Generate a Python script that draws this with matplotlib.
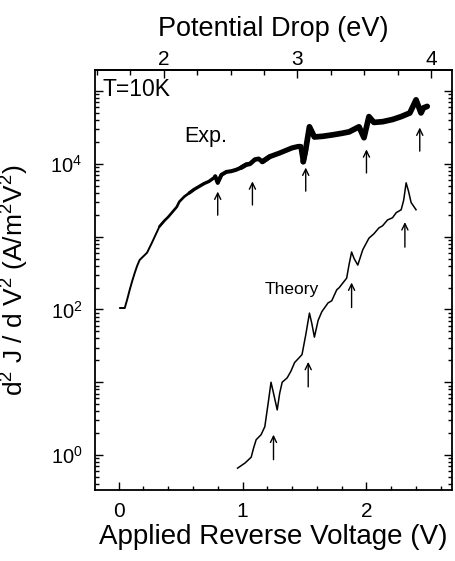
import numpy as np
import matplotlib
matplotlib.use("Agg")
import matplotlib.pyplot as plt
from matplotlib.ticker import LogLocator, MultipleLocator, FixedLocator, NullFormatter

plt.rcParams['font.family'] = ['Liberation Sans', 'DejaVu Sans']
plt.rcParams['mathtext.fontset'] = 'custom'
plt.rcParams['mathtext.rm'] = 'Liberation Sans'
plt.rcParams['mathtext.it'] = 'Liberation Sans:italic'

exp_v = [0.01, 0.05, 0.07, 0.09, 0.11, 0.13, 0.15, 0.17, 0.20, 0.23, 0.27, 0.30,
         0.33, 0.37, 0.40, 0.44, 0.47, 0.49, 0.53, 0.57, 0.61, 0.65, 0.69, 0.73,
         0.77, 0.78, 0.80, 0.83, 0.87, 0.91, 0.95, 0.99, 1.03, 1.06, 1.10, 1.13,
         1.16, 1.22, 1.30, 1.40, 1.45, 1.47, 1.49, 1.51, 1.54, 1.58, 1.65, 1.73,
         1.80, 1.86, 1.94, 1.98, 2.02, 2.06, 2.13, 2.21, 2.28, 2.35, 2.40, 2.44,
         2.46, 2.49]
exp_log = [2.02, 2.02, 2.14, 2.27, 2.39, 2.50, 2.60, 2.68, 2.73, 2.78, 2.92, 3.03,
           3.14, 3.22, 3.27, 3.35, 3.41, 3.48, 3.55, 3.60, 3.65, 3.69, 3.73, 3.76,
           3.81, 3.83, 3.74, 3.85, 3.89, 3.90, 3.92, 3.95, 3.99, 4.00, 4.06, 4.07,
           4.03, 4.10, 4.15, 4.22, 4.24, 4.24, 4.03, 4.20, 4.51, 4.37, 4.38, 4.40,
           4.42, 4.44, 4.51, 4.36, 4.65, 4.57, 4.58, 4.61, 4.65, 4.70, 4.88, 4.70,
           4.77, 4.79]
# trace width grows with the noise band
lw_breaks = [0.0, 0.35, 0.6, 0.8, 1.0, 1.2, 1.5, 2.5]
lw_vals = [1.4, 1.9, 2.4, 2.9, 3.3, 3.7, 4.1]

# theory curve
th_v = [0.96, 1.02, 1.07, 1.09, 1.11, 1.15, 1.18, 1.21, 1.23, 1.25, 1.28, 1.30,
        1.32, 1.36, 1.39, 1.42, 1.48, 1.51, 1.54, 1.56, 1.58, 1.61, 1.64, 1.69,
        1.72, 1.76, 1.78, 1.84, 1.86, 1.88, 1.90, 1.93, 1.97, 2.02, 2.06, 2.10,
        2.13, 2.17, 2.21, 2.24, 2.28, 2.30, 2.32, 2.34, 2.36, 2.40]
th_log = [-0.18, -0.11, -0.03, 0.10, 0.21, 0.28, 0.39, 0.75, 1.00, 0.85, 0.62, 0.85,
          1.00, 1.06, 1.15, 1.27, 1.38, 1.65, 1.95, 1.80, 1.62, 1.85, 1.97, 2.09,
          2.12, 2.27, 2.30, 2.43, 2.62, 2.79, 2.70, 2.61, 2.82, 2.98, 3.04, 3.12,
          3.15, 3.23, 3.26, 3.33, 3.37, 3.50, 3.74, 3.62, 3.47, 3.37]

# arrow heads (V, log10 y)
exp_arrow_v = [0.80, 1.08, 1.51, 2.00, 2.43]
exp_arrow_log = [3.62, 3.76, 3.95, 4.20, 4.50]
th_arrow_v = [1.25, 1.53, 1.88, 2.31]
th_arrow_log = [0.28, 1.28, 2.37, 3.20]

ev_ticks = [2, 3, 4]


def v2ev(v):
    return 2 + (np.asarray(v) - 0.363) / 1.0805


def ev2v(e):
    return 0.363 + (np.asarray(e) - 2) * 1.0805


fig = plt.figure(figsize=(4.55, 5.61), dpi=100)
ax = fig.add_axes([0.2088, 0.1266, 0.7846, 0.7486])

ev_arr = np.array(exp_v)
ey = 10 ** np.array(exp_log)
for lo, hi, w in zip(lw_breaks[:-1], lw_breaks[1:], lw_vals):
    idx = np.where((ev_arr >= lo) & (ev_arr <= hi))[0]
    idx = np.arange(max(idx[0] - 1, 0), min(idx[-1] + 2, len(ev_arr)))
    ax.plot(ev_arr[idx], ey[idx], color='black', lw=w, solid_joinstyle='round',
            solid_capstyle='round')
ax.plot(th_v, 10 ** np.array(th_log), color='black', lw=1.1)

ap = dict(arrowstyle='->,head_length=0.45,head_width=0.22', color='black', lw=1.0,
          shrinkA=0, shrinkB=0)
for v, lg in zip(exp_arrow_v, exp_arrow_log):
    ax.annotate('', xy=(v, 10 ** lg), xytext=(0, -17), textcoords='offset points',
                arrowprops=ap)
for v, lg in zip(th_arrow_v, th_arrow_log):
    ax.annotate('', xy=(v, 10 ** lg), xytext=(0, -18), textcoords='offset points',
                arrowprops=ap)

ax.text(-0.13, 10 ** 5.02, 'T=10K', fontsize=16.5, va='center', ha='left')
ax.text(0.53, 10 ** 4.37, 'Exp.', fontsize=15.5, va='center', ha='left')
ax.text(1.18, 10 ** 2.28, 'Theory', fontsize=12.5, va='center', ha='left')

ax.set_yscale('log')
ax.set_xlim(-0.19, 2.69)
ax.set_ylim(10 ** -0.48, 10 ** 5.29)

ax.xaxis.set_major_locator(FixedLocator([0, 1, 2]))
ax.xaxis.set_minor_locator(MultipleLocator(0.2))
ax.yaxis.set_major_locator(LogLocator(base=10, numticks=20))
ax.yaxis.set_minor_locator(LogLocator(base=10, subs=np.arange(2, 10), numticks=20))
ax.yaxis.set_minor_formatter(NullFormatter())
ax.yaxis.set_major_formatter(
    plt.FuncFormatter(lambda y, p: '$10^{%d}$' % round(np.log10(y)) if round(np.log10(y)) % 2 == 0 else ''))

ax.tick_params(which='both', direction='in', top=False, right=True, width=1.0)
ax.tick_params(which='major', length=6)
ax.tick_params(which='minor', length=3)
ax.tick_params(axis='x', labelsize=15, pad=9)
ax.tick_params(axis='y', labelsize=14.5, pad=9)

for s in ax.spines.values():
    s.set_linewidth(1.3)

sec = ax.secondary_xaxis('top', functions=(v2ev, ev2v))
sec.xaxis.set_major_locator(FixedLocator(ev_ticks))
sec.xaxis.set_minor_locator(MultipleLocator(0.25))
sec.tick_params(which='both', direction='in', width=1.0)
sec.tick_params(which='major', length=6, labelsize=15, pad=1)
sec.tick_params(which='minor', length=3.5)
sec.spines['top'].set_linewidth(1.3)
sec.set_xlabel('Potential Drop (eV)', fontsize=19.5, labelpad=10)

ax.set_xlabel('Applied Reverse Voltage (V)', fontsize=20, labelpad=2)
ax.set_ylabel('d$^2$ J / d V$^2$ (A/m$^2$V$^2$)', fontsize=19)
ax.yaxis.set_label_coords(-0.18, 0.5)

fig.savefig('out.png', dpi=100)
